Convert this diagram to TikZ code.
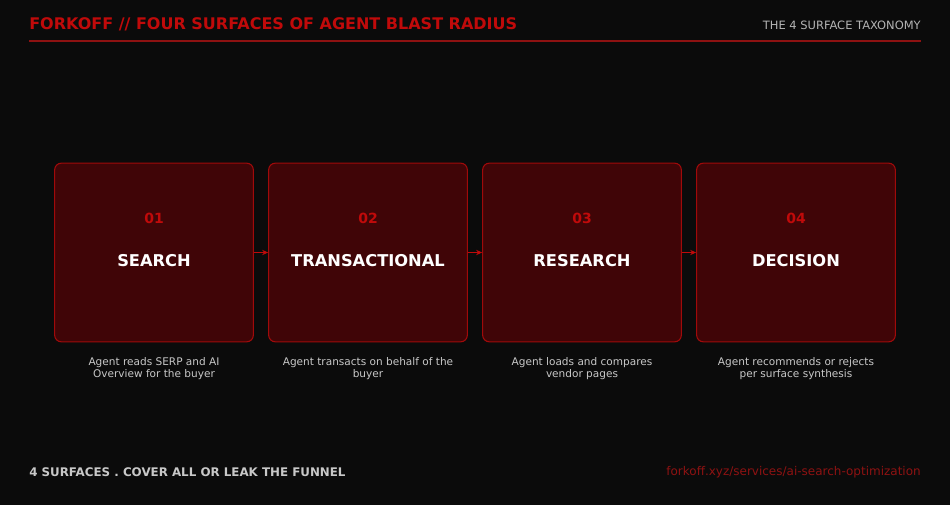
\documentclass[tikz,border=0pt]{standalone}
\usepackage{fontspec}
\setmainfont{DejaVu Sans}
\usetikzlibrary{arrows.meta}
\definecolor{bg}{HTML}{0B0B0B}
\definecolor{boxfill}{HTML}{400507}
\definecolor{boxline}{HTML}{A00A0A}
\definecolor{red1}{HTML}{C00A0A}
\definecolor{url}{HTML}{8E1212}
\definecolor{grey1}{HTML}{B4B4B4}
\definecolor{desc}{HTML}{C8C8C8}
\begin{document}
\begin{tikzpicture}[x=0.75pt,y=-0.75pt,
  card/.style={draw=boxline,fill=boxfill,rounded corners=5pt,line width=0.8pt,minimum width=149pt,minimum height=134pt,inner sep=0pt},
  num/.style={text=red1,font=\bfseries\fontsize{10.5}{13}\selectfont},
  ttl/.style={text=white,font=\bfseries\fontsize{12.2}{15}\selectfont},
  dsc/.style={text=desc,font=\fontsize{7.9}{7.6}\selectfont,align=center},
  arr/.style={-{Stealth[length=4.5pt,width=4pt]},draw=red1,line width=0.9pt}]
\fill[bg] (0,0) rectangle (950,505);
\useasboundingbox (0,0) rectangle (950,505);
\node[anchor=west,inner xsep=0pt,text=red1,font=\bfseries\fontsize{12}{14}\selectfont] (title) at (29,24) {FORKOFF // FOUR SURFACES OF AGENT BLAST RADIUS};
\node[anchor=east,inner xsep=0pt,text=grey1,font=\fontsize{8.6}{11}\selectfont] (sub) at (921,25) {THE 4 SURFACE TAXONOMY};
\draw[draw=url,line width=0.8pt] (29,41) -- (921,41);
\foreach \i/\cx/\n/\t/\d in {1/154/01/SEARCH/{Agent reads SERP and AI\\Overview for the buyer},
  2/368/02/TRANSACTIONAL/{Agent transacts on behalf of the\\buyer},
  3/582/03/RESEARCH/{Agent loads and compares\\vendor pages},
  4/796/04/DECISION/{Agent recommends or rejects\\per surface synthesis}}{
  \node[card] (c\i) at (\cx,252.5) {};
  \node[num] (n\i) at (\cx,218) {\n};
  \node[ttl] (t\i) at (\cx,261) {\t};
  \node[dsc] (d\i) at (\cx,368.5) {\d};
}
\draw[arr] (c1.east) -- (c2.west);
\draw[arr] (c2.east) -- (c3.west);
\draw[arr] (c3.east) -- (c4.west);
\node[anchor=west,inner xsep=0pt,text=desc,font=\bfseries\fontsize{8.9}{11}\selectfont] (foot) at (29,472) {4 SURFACES . COVER ALL OR LEAK THE FUNNEL};
\node[anchor=east,inner xsep=0pt,text=url,font=\fontsize{9}{11}\selectfont] (link) at (921,472) {forkoff.xyz/services/ai-search-optimization};
\end{tikzpicture}
\end{document}
